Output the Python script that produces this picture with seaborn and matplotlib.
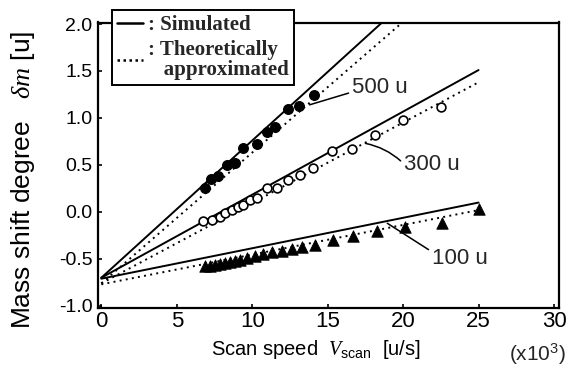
import matplotlib
matplotlib.use("Agg")
import matplotlib.pyplot as plt
import seaborn as sns
from matplotlib.lines import Line2D

# ---------------- data ----------------
x_500 = [6.87, 7.27, 7.71, 8.31, 8.86, 9.41, 10.30, 10.96, 11.51, 12.39, 13.10, 14.12]
y_500 = [0.25, 0.35, 0.38, 0.50, 0.52, 0.68, 0.72, 0.85, 0.90, 1.10, 1.13, 1.24]

x_300 = [6.76, 7.32, 7.87, 8.20, 8.64, 9.08, 9.41, 9.85, 10.30, 10.96, 11.62,
         12.39, 13.17, 14.05, 15.27, 16.59, 18.14, 20.01, 22.51]
y_300 = [-0.10, -0.09, -0.05, -0.01, 0.02, 0.05, 0.07, 0.13, 0.15, 0.25, 0.25,
         0.34, 0.39, 0.47, 0.65, 0.67, 0.82, 0.98, 1.12]

x_100 = [6.87, 7.20, 7.53, 7.87, 8.20, 8.53, 8.86, 9.19, 9.66, 10.19, 10.72,
         11.31, 11.97, 12.63, 13.30, 14.15, 15.36, 16.68, 18.27, 20.10, 22.60, 25.00]
y_100 = [-0.58, -0.57, -0.56, -0.55, -0.54, -0.53, -0.52, -0.51, -0.49, -0.47, -0.45,
         -0.43, -0.41, -0.39, -0.37, -0.35, -0.30, -0.26, -0.20, -0.16, -0.12, 0.03]

# straight lines: values at x = 0 and x = 25
line_x = [0, 25]
sim_500 = [-0.70, 2.95]
theo_500 = [-0.76, 2.72]
sim_300 = [-0.70, 1.51]
theo_300 = [-0.76, 1.38]
sim_100 = [-0.71, 0.10]
theo_100 = [-0.77, 0.02]

x_ticks = [0, 5, 10, 15, 20, 25, 30]
x_ticklabels = ["0", "5", "10", "15", "20", "25", "30"]
y_ticks = [-1.0, -0.5, 0.0, 0.5, 1.0, 1.5, 2.0]
y_ticklabels = ["-1.0", "-0.5", "0.0", "0.5", "1.0", "1.5", "2.0"]

# ---------------- style ----------------
sns.set_theme(style="ticks")
plt.rcParams['font.family'] = ['Liberation Sans', 'DejaVu Sans']
plt.rcParams['mathtext.fontset'] = 'custom'
plt.rcParams['mathtext.it'] = 'Liberation Serif:italic'
plt.rcParams['mathtext.rm'] = 'Liberation Sans'

fig = plt.figure(figsize=(5.69, 3.74), dpi=100)
ax = fig.add_axes([98 / 569, 1 - 308.3 / 374, (559 - 98) / 569, (308.3 - 22.5) / 374])

dotted = (0, (1, 2.2))
for ys in (sim_500, sim_300, sim_100):
    sns.lineplot(x=line_x, y=ys, color="black", linewidth=1.4, ax=ax, zorder=2)
for ys in (theo_500, theo_300, theo_100):
    sns.lineplot(x=line_x, y=ys, color="black", linewidth=1.4, linestyle=dotted, ax=ax, zorder=2)

sns.scatterplot(x=x_500, y=y_500, marker="o", s=50, color="black", edgecolor="black",
                linewidth=0.8, ax=ax, zorder=3)
sns.scatterplot(x=x_300, y=y_300, marker="o", s=40, color="white", edgecolor="black",
                linewidth=1.2, ax=ax, zorder=3)
sns.scatterplot(x=x_100, y=y_100, marker="^", s=68, color="black", edgecolor="black",
                linewidth=0.6, ax=ax, zorder=3)

ax.set_xlim(-0.22, 30.33)
ax.set_ylim(-1.025, 2.016)
ax.set_xticks(x_ticks)
ax.set_xticklabels(x_ticklabels, fontsize=16)
ax.set_yticks(y_ticks)
ax.set_yticklabels(y_ticklabels, fontsize=14)
ax.tick_params(axis="both", direction="in", length=3, width=1.2, colors="black")
ax.tick_params(axis="x", pad=2)
ax.tick_params(axis="y", pad=4)
for sp in ax.spines.values():
    sp.set_linewidth(1.6)
    sp.set_color("black")
    sp.set_visible(True)

ax.set_xlabel(r"Scan speed  $V_{\rm scan}$  [u/s]", fontsize=14.5, color="black")
ax.xaxis.set_label_coords(0.473, -0.103)
ax.set_ylabel(r"Mass shift degree   $\delta m$ [u]", fontsize=19, color="black")
ax.yaxis.set_label_coords(-0.133, 0.45)

fig.text(538 / 569, 1 - 354 / 374, r"(x10$^{3}$)", fontsize=15, ha="center", va="center")

# annotations
ann = dict(arrowstyle="-", lw=1.1, color="black", shrinkA=0, shrinkB=0)
ax.annotate("500 u", xy=(13.8, 1.14), xytext=(16.6, 1.32), fontsize=16, va="center",
            arrowprops=dict(ann, relpos=(0, 0.3)))
ax.annotate("300 u", xy=(17.5, 0.73), xytext=(20.05, 0.50), fontsize=16, va="center",
            arrowprops=dict(ann, relpos=(0, 0.55), connectionstyle="arc3,rad=0.15"))
ax.annotate("100 u", xy=(18.95, -0.12), xytext=(21.9, -0.49), fontsize=16, va="center",
            arrowprops=dict(ann, relpos=(0, 0.8)))

# legend
h1 = Line2D([0], [0], color="black", linewidth=1.8)
h2 = Line2D([0], [0], color="black", linewidth=1.8, linestyle=(0, (1, 1.4)))
leg = ax.legend(handles=[h1, h2], labels=[": Simulated", ": Theoretically\n   approximated"],
                loc="upper left", bbox_to_anchor=(112 / 569, 1 - 10 / 374),
                bbox_transform=fig.transFigure, frameon=True, fancybox=False,
                edgecolor="black", framealpha=1, borderpad=0.25, labelspacing=0.25,
                handlelength=1.25, handletextpad=0.25, borderaxespad=0,
                prop={"family": "Liberation Serif", "weight": "bold", "size": 15})
leg.get_frame().set_linewidth(1.4)
for t in leg.get_texts():
    t.set_linespacing(0.95)

fig.savefig("out.png", dpi=100)
